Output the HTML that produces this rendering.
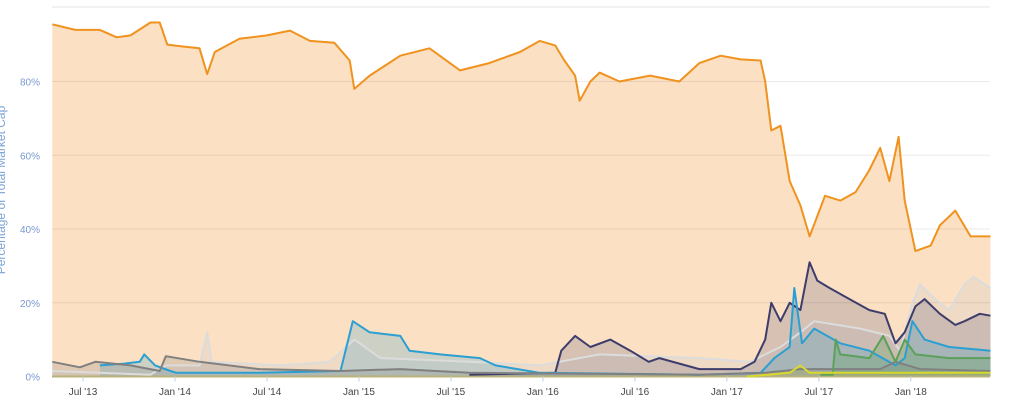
<!DOCTYPE html>
<html><head><meta charset="utf-8"><style>
html,body{margin:0;padding:0;background:#fff;}
svg{display:block;font-family:"Liberation Sans",sans-serif;}
</style></head><body>
<svg id="chart" width="1034" height="408" viewBox="0 0 1034 408" xmlns="http://www.w3.org/2000/svg">
<text transform="translate(5,190) rotate(-90)" text-anchor="middle" font-size="12" fill="#7aa3d6">Percentage of Total Market Cap</text>
<g id="fills"></g><g id="grid"></g><g id="lines"></g><g id="axes"></g>
</svg>
<script>
const yTicks=[0,20,40,60,80];
const yTickLabels=["0%","20%","40%","60%","80%"];
const xTickMonths=[6,12,18,24,30,36,42,48,54,60];
const xTickLabels=["Jul '13","Jan '14","Jul '14","Jan '15","Jul '15","Jan '16","Jul '16","Jan '17","Jul '17","Jan '18"];
// months since Jan 2013
const btcT=[4.0,5.5,7.1,8.2,9.1,10.4,11.0,11.5,12.5,13.6,14.1,14.6,16.2,18.0,19.5,20.8,22.4,23.4,23.7,24.7,26.7,28.6,30.6,32.5,34.5,35.8,36.8,37.4,38.1,38.4,39.1,39.7,41.0,43.0,44.9,46.2,47.6,48.9,50.2,50.5,50.9,51.5,52.1,52.8,53.4,54.4,55.4,56.4,57.3,58.0,58.6,59.2,59.6,60.3,61.3,61.9,62.9,63.9,65.2];
const btcV=[95.5,94,94,92,92.5,96,96,90,89.5,89,82,88,91.6,92.5,93.8,91,90.5,85.7,78,81.6,87,89,83,85,88,91,89.8,85.7,81.6,74.8,80,82.4,80,81.6,80,85,87,86,85.7,80,66.7,68,53,46.4,38,49,47.7,50,56,62,53,65,47.7,34,35.5,41,45,38,38];
const ethT=[31.2,36.8,37.2,38.1,39.1,40.4,41.7,42.9,43.6,46.2,48.9,49.8,50.5,50.9,51.5,52.1,52.8,53.4,53.9,54.7,56.0,57.3,58.3,59.0,59.6,60.3,60.9,61.9,62.9,63.5,64.5,65.2];
const ethV=[0.5,1,7,11,8,10,7,4,5,2,2,4,10,20,15,20,18,31,26,24,21,18,17,9,12,19,21,17,14,15,17,16.5];
const xrpT=[7.1,8.7,9.7,10.0,10.7,11.7,12.1,17.5,22.8,23.6,24.7,26.7,27.3,29.3,31.9,32.9,35.8,46.2,50.2,51.1,52.1,52.4,52.9,53.7,55.4,57.3,59.0,59.6,60.1,60.9,62.5,65.2];
const xrpV=[3,3.5,4,6,3,1.5,1,1,1.5,15,12,11,7,6,5,3,1,0.5,1,5,8,24,9,13,9,7,3,5,15,10,8,7];
const ltcT=[4.0,5.8,6.8,9.1,11.0,11.4,13.6,17.5,22.8,26.7,31.2,46.2,50.5,52.8,58.0,59.0,60.6,65.2];
const ltcV=[4,2.5,4,3,1.5,5.5,4,2,1.5,2,1,0.5,1,2,2,4,2,1.5];
const othT=[4.0,10.4,11.4,13.6,14.1,14.4,18.9,22.1,23.7,25.4,31.2,35.8,39.7,46.2,49.5,51.5,52.8,53.7,56.7,58.6,59.3,60.1,60.6,61.6,62.5,63.5,64.1,65.2];
const othV=[1.5,0.5,3,3,12,4,3,4,10,5,4,3,6,5,4,8,12,15,13,11,7,20,25,21,18,25,27,24];
const grnT=[54.1,54.9,55.1,55.4,57.3,58.2,59.0,59.6,60.3,62.5,65.2];
const grnV=[0.5,0.5,10,6,5,11,4,10,6,5,5];
const ylwT=[49.3,52.1,52.8,53.4,59.3,65.2];
const ylwV=[0,1,3,1,1,1];

const NS="http://www.w3.org/2000/svg";
const X0=52,X1=990,Y0=376.5;
const xs=m=>83+(m-6)*15.33;
const ys=v=>Y0-v*3.6875;
function mk(tag,attrs,parent){const e=document.createElementNS(NS,tag);for(const k in attrs)e.setAttribute(k,attrs[k]);document.getElementById(parent).appendChild(e);return e;}
function series(name,T,V,stroke,fill){
  let d="";T.forEach((t,i)=>{d+=(i?"L":"M")+xs(t).toFixed(1)+","+ys(V[i]).toFixed(1);});
  const a=mk("path",{d:d+"L"+xs(T[T.length-1]).toFixed(1)+","+Y0+"L"+xs(T[0]).toFixed(1)+","+Y0+"Z",fill:fill,stroke:"none"},"fills");
  
  
  const l=mk("path",{d:d,fill:"none",stroke:stroke,"stroke-width":2,"stroke-linejoin":"round"},"lines");
  
  
}
series("bitcoin",btcT,btcV,"#f0921e","#fce0c4");
series("others",othT,othV,"#dcdcdc","rgba(200,200,200,0.25)");
series("ethereum",ethT,ethV,"#3d3d6b","rgba(80,80,120,0.22)");
series("ripple",xrpT,xrpV,"#2a9fd2","rgba(60,160,200,0.25)");
series("litecoin",ltcT,ltcV,"#808080","rgba(110,110,110,0.2)");
series("green-coin",grnT,grnV,"#5ba05b","rgba(80,160,80,0.25)");
series("yellow-coin",ylwT,ylwV,"#d8d82a","rgba(200,200,40,0.2)");
const topLine=mk("line",{x1:X0,x2:X1,y1:7,y2:7,stroke:"#e6e6e6"},"grid");


yTicks.forEach((v,i)=>{
  const g=mk("line",{x1:X0,x2:X1,y1:ys(v),y2:ys(v),stroke:v===0?"#b9b27a":"rgba(0,0,0,0.08)","stroke-width":v===0?2:1},"grid");
  
  
  const t=mk("text",{x:40,y:ys(v)+4,"text-anchor":"end","font-size":10,fill:"#7a98cf"},"axes");
  t.textContent=yTickLabels[i];
  
  
});
xTickMonths.forEach((m,i)=>{
  const tk=mk("line",{x1:xs(m),x2:xs(m),y1:Y0,y2:Y0+5,stroke:"#c0d0e0"},"axes");
  
  
  const t=mk("text",{x:xs(m),y:395,"text-anchor":"middle","font-size":10,fill:"#444"},"axes");
  t.textContent=xTickLabels[i];
  
  
});
</script>
</body></html>
